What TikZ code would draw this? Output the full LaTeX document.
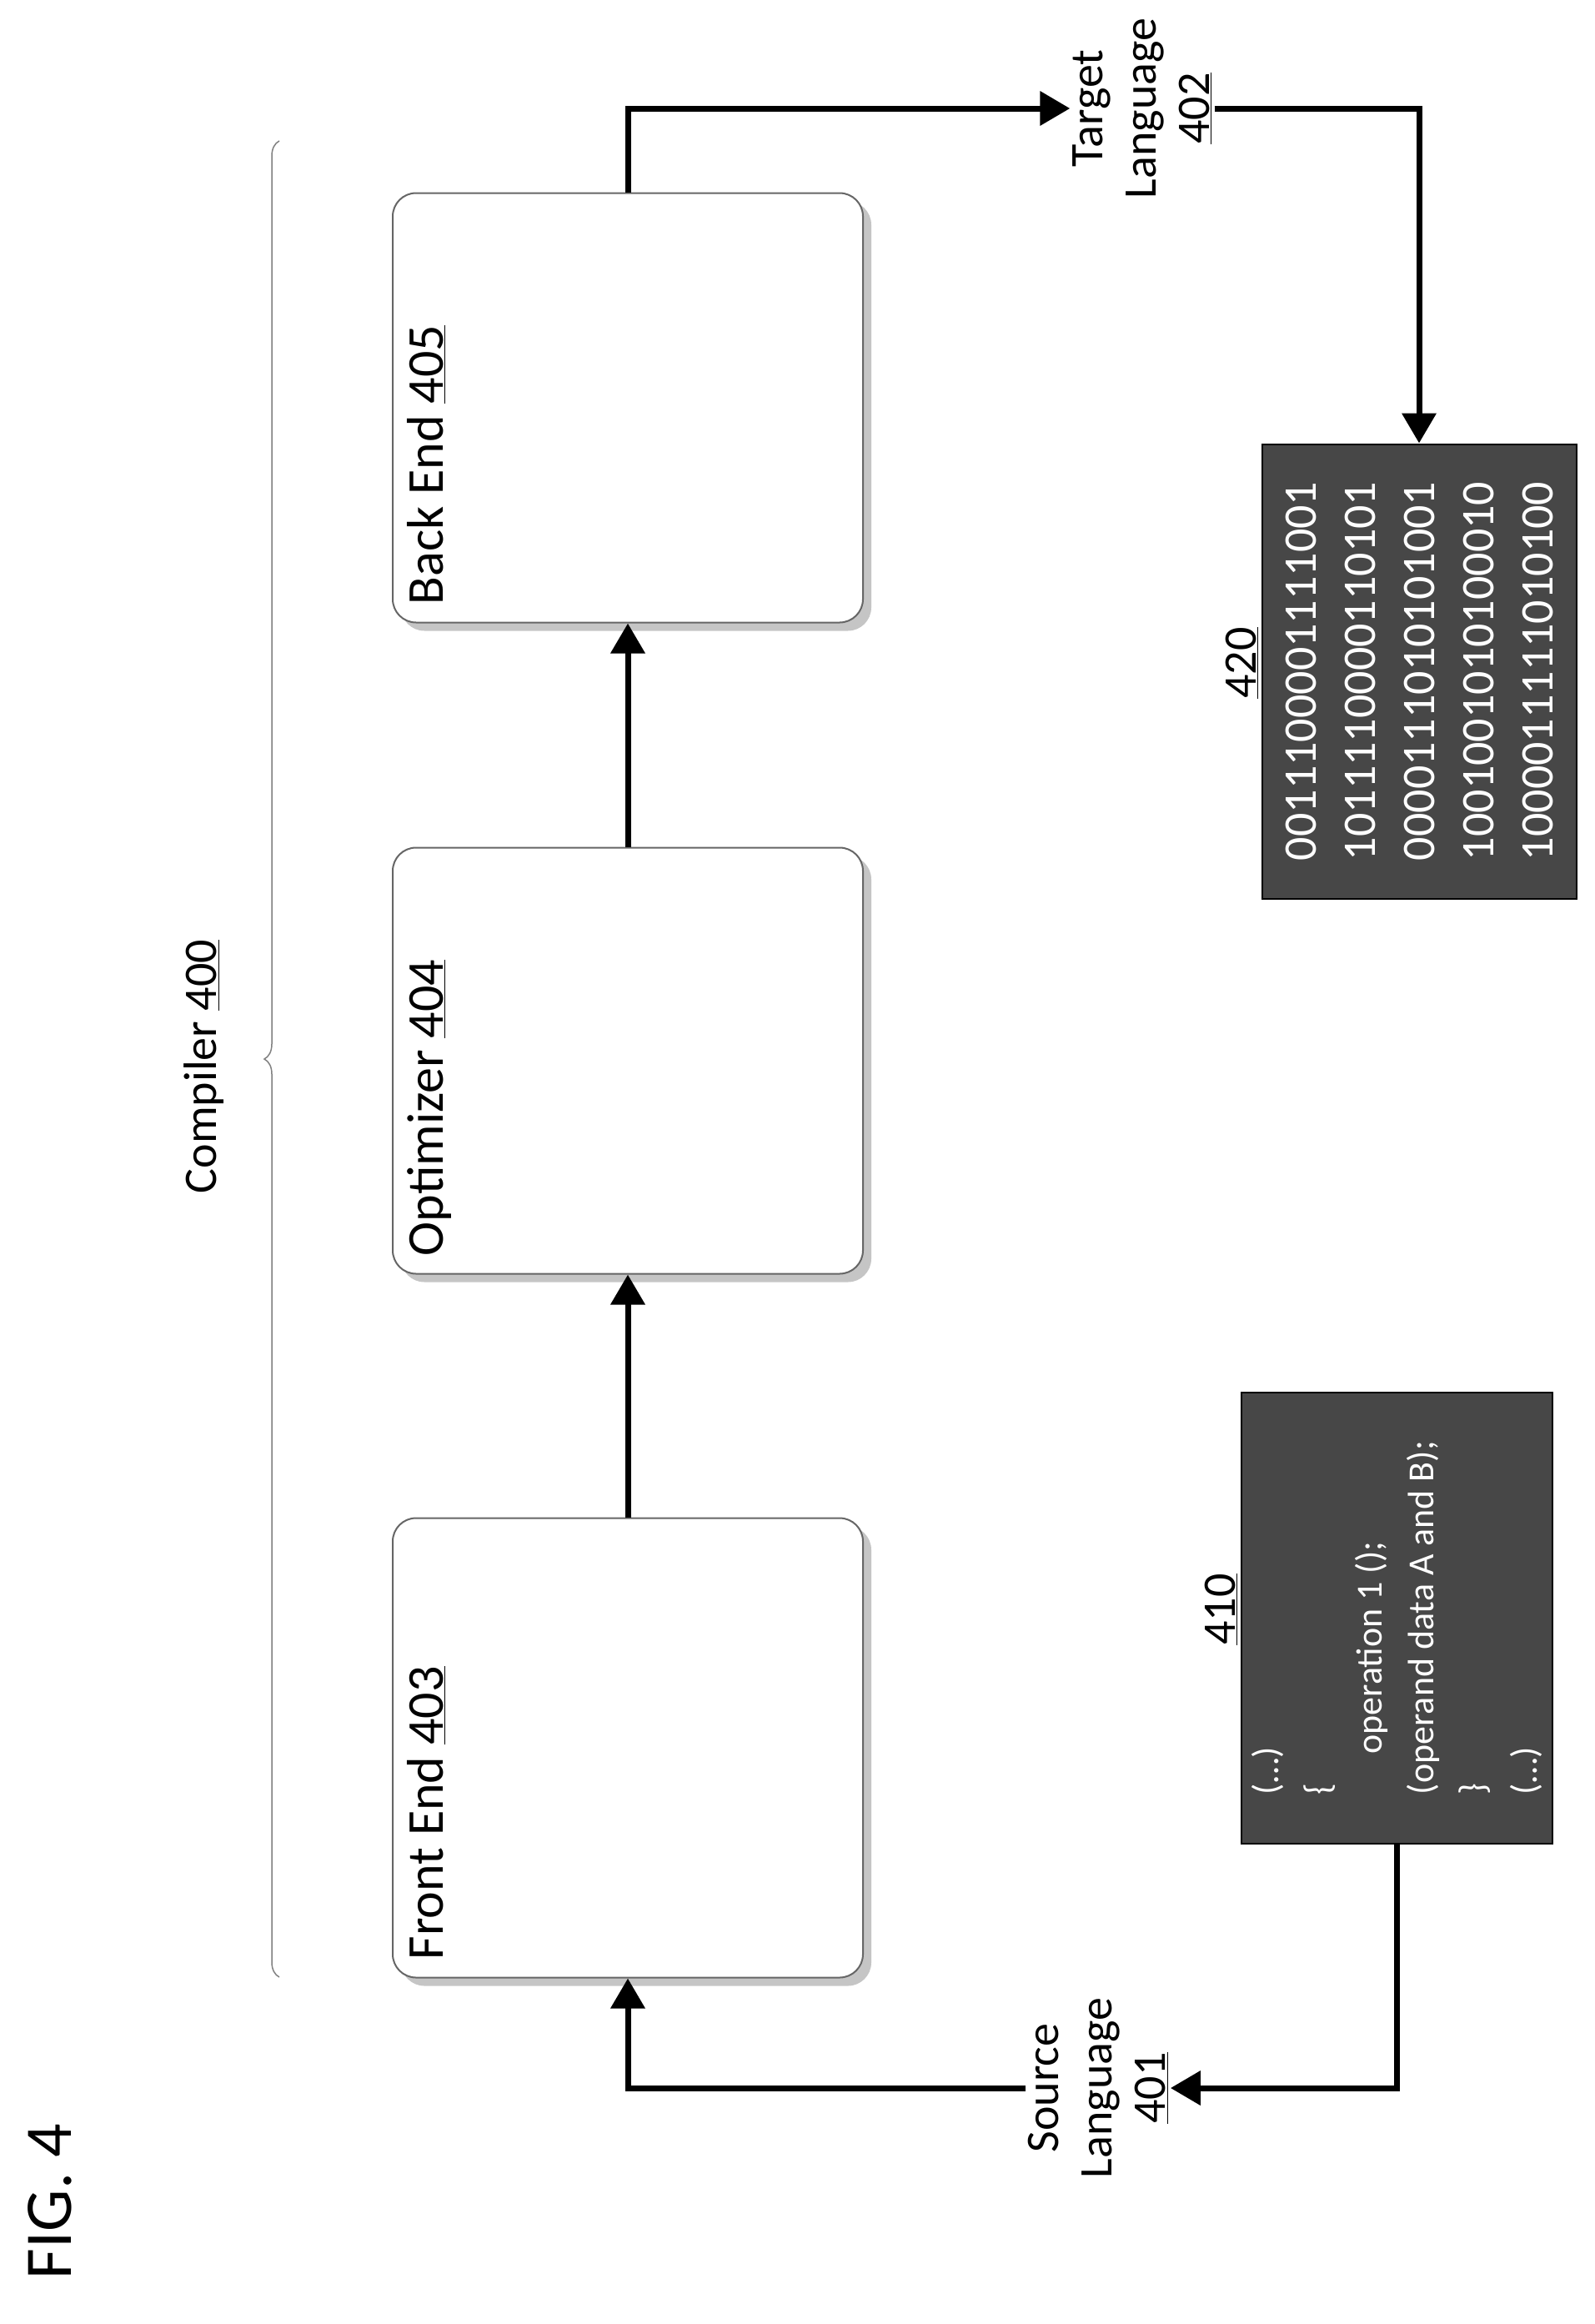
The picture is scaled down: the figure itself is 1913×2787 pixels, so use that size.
\documentclass[tikz,border=0pt]{standalone}
\usepackage{fontspec}
\setmainfont{Carlito}
\usetikzlibrary{positioning, arrows.meta, shadows, decorations.pathreplacing}
\tikzstyle{stage} = [draw=black!60, line width=2pt, rounded corners=28pt, fill=white, minimum width=564pt, drop shadow={shadow xshift=10pt, shadow yshift=-10pt, fill=black!45}]
\tikzstyle{flow} = [line width=7pt, -{Triangle[width=40pt,length=36pt]}]
\tikzstyle{stagetext} = [rotate=90, anchor=north west, font=\fontsize{62}{70}\selectfont, inner sep=0pt]
\tikzstyle{code} = [fill=black!72, draw=black, line width=2pt, text=white, rotate=90, align=left, inner sep=0pt]
\tikzstyle{tag} = [rotate=90, align=center, font=\fontsize{56}{64}\selectfont]

\begin{document}
\begin{tikzpicture}[x=1pt, y=-1pt]
            \useasboundingbox (0,0) rectangle (1913,2787);
            % compiler stages
            \node[stage, minimum height=551pt] (front) at (753,2096) {};
            \node[stage, minimum height=511pt] (opt) at (753,1272) {};
            \node[stage, minimum height=515pt] (back) at (753,489) {};
            \node[stagetext] at ([xshift=18pt, yshift=22pt]front.south west) {Front End \underline{403}};
            \node[stagetext] at ([xshift=18pt, yshift=22pt]opt.south west) {Optimizer \underline{404}};
            \node[stagetext] at ([xshift=18pt, yshift=22pt]back.south west) {Back End \underline{405}};
            \draw[flow] (front) -- (opt);
            \draw[flow] (opt) -- (back);

            % brace and label
            \coordinate (bracelow) at (335,2371);
            \coordinate (bracehigh) at (335,169);
            \draw[black!50, line width=1.5pt, decorate, decoration={brace, amplitude=18pt}] (bracelow) -- (bracehigh);
            \node[tag] (compiler) at (245,1279) {Compiler \underline{400}};

            % languages
            \node[tag] (source) at (1317,2504) {Source\\Language\\\underline{401}};
            \node[tag] (target) at (1370,130) {Target\\Language\\\underline{402}};
            \draw[flow] (source.north) -| (front);
            \draw[flow] (back) |- (target.north);

            % code listings
            \node[code, minimum width=541pt, minimum height=373pt, font=\fontsize{44}{62}\selectfont] (src) at (1675,1940) {%
              (…)\\\{\\\hspace*{1.1em}operation 1 ();\\(operand data A and B);\\\}\\(…)};
            \node[above=10pt of src.north, tag, anchor=south] (srctag) {\underline{410}};
            \node[code, minimum width=545pt, minimum height=377pt, font=\fontsize{56}{71}\selectfont] (bin) at (1702,805) {%
              0011100001111001\\1011110000110101\\0000111010101001\\1001001010100010\\1000011111010100};
            \node[above=10pt of bin.north, tag, anchor=south] (bintag) {\underline{420}};
            \draw[flow] (target.south) -| (bin);
            \draw[flow] (src) |- (source.south);

            \node[rotate=90, font=\fontsize{80}{90}\selectfont] (fig) at (60,2640) {FIG. 4};
        \end{tikzpicture}
\end{document}
